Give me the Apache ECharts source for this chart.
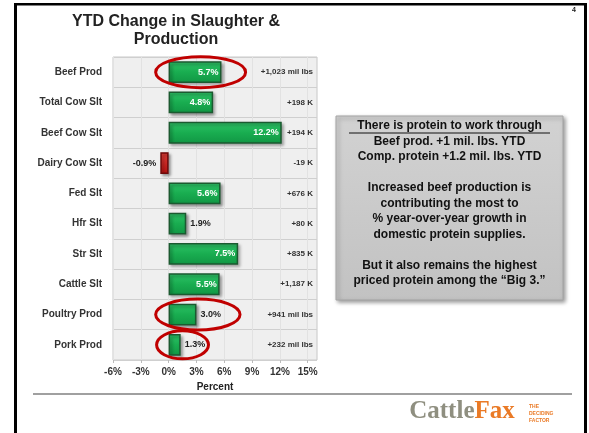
<!DOCTYPE html>
<html>
<head>
<meta charset="utf-8">
<script src="https://cdn.jsdelivr.net/npm/echarts@6/dist/echarts.min.js"></script>
<style>
  html, body { margin: 0; padding: 0; background: #fff; }
  #chart { width: 589px; height: 433px; }
</style>
</head>
<body>
<div id="chart"></div>
<script>
// data
const categories = ['Beef Prod', 'Total Cow Slt', 'Beef Cow Slt', 'Dairy Cow Slt', 'Fed Slt',
  'Hfr Slt', 'Str Slt', 'Cattle Slt', 'Poultry Prod', 'Pork Prod']
const pctChange = [5.7, 4.8, 12.2, -0.9, 5.6, 1.9, 7.5, 5.5, 3.0, 1.3]
const volumeChange = ['+1,023 mil lbs', '+198 K', '+194 K', '-19 K', '+676 K',
  '+80 K', '+835 K', '+1,187 K', '+941 mil lbs', '+232 mil lbs']
const xTicks = [-6, -3, 0, 3, 6, 9, 12, 15]
const circled = ['Beef Prod', 'Poultry Prod', 'Pork Prod']

const boxLines = [
  'There is protein to work through',
  'Beef prod. +1 mil. lbs. YTD',
  'Comp. protein +1.2 mil. lbs. YTD',
  '',
  'Increased beef production is',
  'contributing the most to',
  '% year-over-year growth in',
  'domestic protein supplies.',
  '',
  'But it also remains the highest',
  'priced protein among the \u201cBig 3.\u201d'
]

const font = 'Liberation Sans, Arial, sans-serif'
let chart = echarts.init(document.getElementById('chart'))

let barData = pctChange.map(function (v) {
  let inside = v >= 4
  return {
    value: v,
    itemStyle: v < 0 ? {
      color: new echarts.graphic.LinearGradient(0, 0, 0, 1, [
        {offset: 0, color: '#e0403a'}, {offset: 1, color: '#b5100f'}]),
      borderColor: '#6e0a0a'
    } : {},
    label: {
      position: inside ? 'insideRight' : (v < 0 ? 'left' : 'right'),
      color: inside ? '#fff' : '#222',
      distance: inside ? 3 : 4
    }
  }
})

let options = {
  animation: false,
  textStyle: {fontFamily: font},
  grid: {
    left: 113, right: 272, top: 57, bottom: 73,
    show: true, backgroundColor: '#efefef', borderColor: '#c8c8c8', borderWidth: 1
  },
  xAxis: {
    type: 'value',
    min: xTicks[0],
    max: 16,
    interval: 3,
    name: 'Percent',
    nameLocation: 'middle',
    nameGap: 22,
    nameTextStyle: {fontSize: 10, fontWeight: 'bold', color: '#222'},
    axisLine: {show: false},
    axisTick: {show: true, length: 3, lineStyle: {color: '#bbb'}},
    splitLine: {show: true, lineStyle: {color: '#e2e2e2'}},
    axisLabel: {
      showMaxLabel: false,
      margin: 7,
      fontSize: 10, fontWeight: 'bold', color: '#333',
      formatter: '{value}%'
    }
  },
  yAxis: [{
    type: 'category',
    inverse: true,
    data: categories,
    axisLine: {show: false},
    axisTick: {show: false},
    splitLine: {show: true, lineStyle: {color: '#cfcfcf'}},
    axisLabel: {margin: 11, fontSize: 10, fontWeight: 'bold', color: '#333'}
  }, {
    type: 'category',
    inverse: true,
    position: 'right',
    data: volumeChange,
    axisLine: {show: false},
    axisTick: {show: false},
    axisLabel: {inside: true, margin: 4, fontSize: 8, fontWeight: 'bold', color: '#333'}
  }],
  series: [{
    type: 'bar',
    data: barData,
    barWidth: '72%',
    itemStyle: {
      color: new echarts.graphic.LinearGradient(0, 0, 0, 1, [
        {offset: 0, color: '#2fc468'}, {offset: 0.5, color: '#19ad50'}, {offset: 1, color: '#119644'}]),
      borderColor: '#1b5a30',
      borderWidth: 1.5,
      shadowColor: 'rgba(0,0,0,0.35)',
      shadowBlur: 3,
      shadowOffsetX: 2,
      shadowOffsetY: 2
    },
    label: {
      show: true,
      fontSize: 9,
      fontWeight: 'bold',
      formatter: function (p) { return p.value.toFixed(1) + '%' }
    }
  }]
}
chart.setOption(options)

// slide decoration, text box and the red circles
let g = []
// frame
g.push({type: 'rect', shape: {x: 14, y: 3, width: 3, height: 440}, style: {fill: '#000'}})
g.push({type: 'rect', shape: {x: 14, y: 3, width: 572, height: 2.5}, style: {fill: '#000'}})
g.push({type: 'rect', shape: {x: 584, y: 3, width: 3, height: 440}, style: {fill: '#000'}})
g.push({type: 'text', x: 574, y: 10, style: {text: '4', font: 'bold 7px ' + font, fill: '#222', align: 'center', verticalAlign: 'middle'}})
// title
g.push({type: 'text', x: 176, y: 22, style: {text: 'YTD Change in Slaughter &', font: 'bold 16px ' + font, fill: '#222', align: 'center', verticalAlign: 'middle'}})
g.push({type: 'text', x: 176, y: 40, style: {text: 'Production', font: 'bold 16px ' + font, fill: '#222', align: 'center', verticalAlign: 'middle'}})

// gray box
g.push({
  type: 'rect', shape: {x: 336, y: 116, width: 227, height: 184},
  style: {
    fill: new echarts.graphic.LinearGradient(0, 0, 0, 1, [
      {offset: 0, color: '#d2d2d2'}, {offset: 1, color: '#c2c2c2'}]),
    stroke: '#a5a5a5', lineWidth: 1,
    shadowColor: 'rgba(0,0,0,0.4)', shadowBlur: 4, shadowOffsetX: 2, shadowOffsetY: 2
  }
})
boxLines.forEach(function (t, i) {
  if (!t) return
  g.push({type: 'text', x: 449.5, y: 126 + i * 15.5,
    style: {text: t, font: 'bold 12px ' + font, fill: '#111', align: 'center', verticalAlign: 'middle'}})
})
g.push({type: 'line', shape: {x1: 349, y1: 133, x2: 550, y2: 133}, style: {stroke: '#111', lineWidth: 1}})

// footer rule and logo
g.push({type: 'rect', shape: {x: 33, y: 393, width: 539, height: 2}, style: {fill: '#a0a0a0'}})
g.push({type: 'text', x: 462, y: 412, style: {
  rich: {
    a: {font: 'bold 25px Liberation Serif, Times New Roman, serif', fill: '#8f8f80'},
    b: {font: 'bold 25px Liberation Serif, Times New Roman, serif', fill: '#ea7a26'}
  },
  text: '{a|Cattle}{b|Fax}', align: 'center', verticalAlign: 'middle'
}})
g.push({type: 'text', x: 529, y: 403, style: {
  text: 'THE\nDECIDING\nFACTOR', font: 'bold 5px ' + font, fill: '#ea7a26', lineHeight: 7
}})

// red ellipses around the highlighted bars
let ellipseSpan = {'Beef Prod': [-1.4, 8.3], 'Poultry Prod': [-1.4, 7.7], 'Pork Prod': [-1.3, 4.3]}
circled.forEach(function (name) {
  let left = chart.convertToPixel({gridIndex: 0}, [ellipseSpan[name][0], name])
  let right = chart.convertToPixel({gridIndex: 0}, [ellipseSpan[name][1], name])
  let ry = name === 'Pork Prod' ? 14 : 15.5
  g.push({
    type: 'ellipse',
    shape: {cx: (left[0] + right[0]) / 2, cy: left[1], rx: (right[0] - left[0]) / 2, ry: ry},
    style: {fill: 'none', stroke: '#c00000', lineWidth: 3},
    z: 100
  })
})

chart.setOption({graphic: g})
</script>
</body>
</html>
